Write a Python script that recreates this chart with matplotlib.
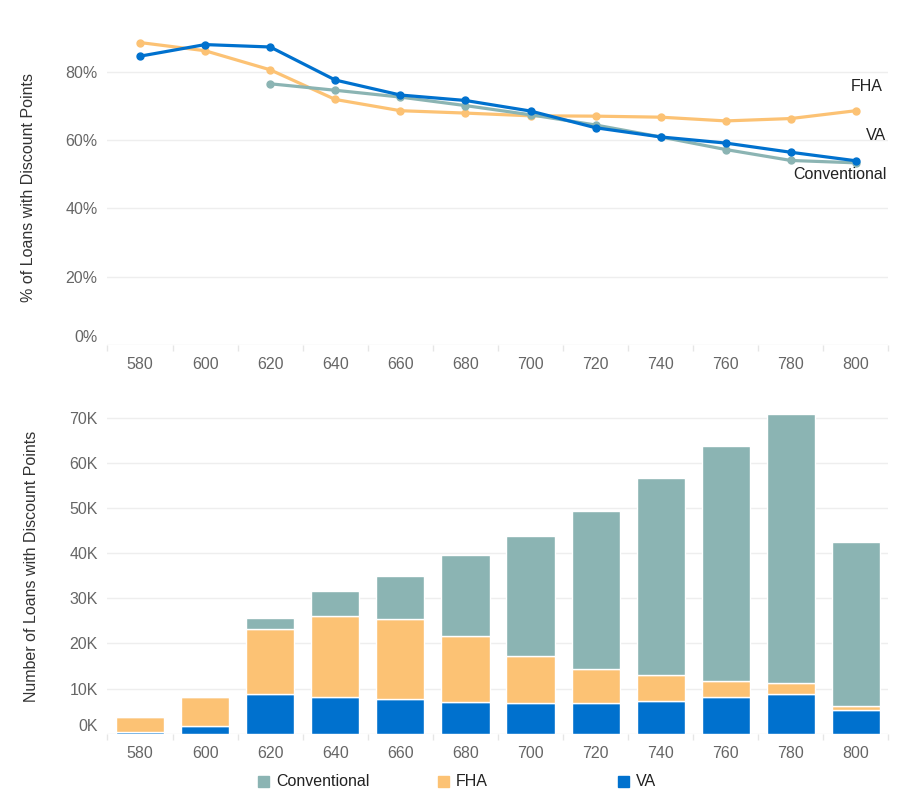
import matplotlib
matplotlib.use("Agg")
import matplotlib.pyplot as plt
from matplotlib.patches import Rectangle
import numpy as np

plt.rcParams['font.family'] = ['Liberation Sans', 'DejaVu Sans']

scores = [580, 600, 620, 640, 660, 680, 700, 720, 740, 760, 780, 800]

# Top chart: % of loans with discount points
pct_conv = [None, None, 76.6, 74.7, 72.7, 70.2, 67.5, 64.5, 61.0, 57.3, 54.1, 53.4]
pct_fha = [88.7, 86.3, 80.7, 72.0, 68.7, 68.0, 67.2, 67.1, 66.8, 65.7, 66.4, 68.7]
pct_va = [84.7, 88.1, 87.4, 77.7, 73.3, 71.7, 68.6, 63.7, 61.0, 59.2, 56.5, 54.0]

# Bottom chart: number of loans (thousands)
cnt_va = [0.3, 1.6, 8.75, 8.1, 7.6, 7.1, 6.75, 6.75, 7.2, 8.1, 8.75, 5.2]
cnt_fha = [3.3, 6.6, 14.45, 17.9, 17.8, 14.5, 10.45, 7.55, 5.8, 3.5, 2.45, 0.9]
cnt_conv = [0.0, 0.0, 2.4, 5.6, 9.6, 18.1, 26.7, 35.0, 43.6, 52.3, 59.7, 36.3]

pct_ticks = [0, 20, 40, 60, 80]
pct_tick_labels = ['0%', '20%', '40%', '60%', '80%']
cnt_ticks = [0, 10, 20, 30, 40, 50, 60, 70]
cnt_tick_labels = ['0K', '10K', '20K', '30K', '40K', '50K', '60K', '70K']

C_CONV = '#8BB4B3'
C_FHA = '#FCC274'
C_VA = '#0071CE'
TICK_C = '#666666'
LABEL_C = '#333333'
GRID_C = '#EEEEEE'

fig = plt.figure(figsize=(9, 8), dpi=100)
x = np.arange(len(scores))

def style(ax):
    for s in ax.spines.values():
        s.set_visible(False)
    ax.set_xlim(-0.5, len(scores) - 0.5)
    ax.set_xticks(x)
    ax.set_xticklabels([str(s) for s in scores])
    ax.set_xticks(np.arange(len(scores) + 1) - 0.5, minor=True)
    ax.tick_params(axis='x', which='major', length=0, pad=9, labelsize=11.5, labelcolor=TICK_C)
    ax.tick_params(axis='x', which='minor', length=4, color='#E6E6E6', width=1)
    ax.tick_params(axis='y', length=0, pad=7, labelsize=11.5, labelcolor=TICK_C)
    ax.grid(axis='y', color=GRID_C, linewidth=1)
    ax.set_axisbelow(True)

# ---- Top chart ----
ax1 = fig.add_axes([0.1194, 0.569, 0.8678, 0.394])
style(ax1)
def arr(v):
    return np.array([np.nan if a is None else a for a in v], dtype=float)
ax1.plot(x, arr(pct_fha), color=C_FHA, lw=2.3, marker='o', ms=5, zorder=3)
ax1.plot(x, arr(pct_conv), color=C_CONV, lw=2.3, marker='o', ms=5, zorder=3)
ax1.plot(x, arr(pct_va), color=C_VA, lw=2.3, marker='o', ms=5, zorder=4)
ax1.set_ylim(0, 92.5)
ax1.set_yticks(pct_ticks)
ax1.set_yticklabels(pct_tick_labels)
ax1.get_yticklabels()[0].set_verticalalignment('bottom')
ax1.set_ylabel('% of Loans with Discount Points', fontsize=11.5, color=LABEL_C, labelpad=21)
last = len(scores) - 1
ax1.annotate('FHA', (last, pct_fha[-1]), xytext=(27, 24), textcoords='offset pixels',
             ha='right', va='center', fontsize=11.5, color='#222222')
ax1.annotate('VA', (last, pct_va[-1]), xytext=(30, 25), textcoords='offset pixels',
             ha='right', va='center', fontsize=11.5, color='#222222')
ax1.annotate('Conventional', (last, pct_conv[-1]), xytext=(31, -12), textcoords='offset pixels',
             ha='right', va='center', fontsize=11.5, color='#222222')

# ---- Bottom chart ----
ax2 = fig.add_axes([0.1194, 0.0829, 0.8678, 0.4171])
style(ax2)
va_a = np.array(cnt_va)
fha_a = np.array(cnt_fha)
conv_a = np.array(cnt_conv)
w = 0.74
ax2.bar(x, va_a, w, color=C_VA, edgecolor='white', linewidth=1, zorder=3)
ax2.bar(x, fha_a, w, bottom=va_a, color=C_FHA, edgecolor='white', linewidth=1, zorder=3)
ax2.bar(x, conv_a, w, bottom=va_a + fha_a, color=C_CONV, edgecolor='white', linewidth=1, zorder=3)
ax2.set_ylim(0, 74)
ax2.set_yticks(cnt_ticks)
ax2.set_yticklabels(cnt_tick_labels)
ax2.get_yticklabels()[0].set_verticalalignment('bottom')
ax2.set_ylabel('Number of Loans with Discount Points', fontsize=11.5, color=LABEL_C, labelpad=22)

# ---- Legend ----
legend_items = [('Conventional', C_CONV), ('FHA', C_FHA), ('VA', C_VA)]
lx0, ly = 258 / 900, 1 - 781 / 800
for i, (name, col) in enumerate(legend_items):
    lx = lx0 + i * 180 / 900
    fig.patches.append(Rectangle((lx, ly - 5.5 / 800), 11 / 900, 11 / 800,
                                 transform=fig.transFigure, color=col, figure=fig))
    fig.text(lx + 18 / 900, ly, name, fontsize=11.5, color='#222222', va='center', ha='left')

fig.savefig('out.png', dpi=100, facecolor='white')
